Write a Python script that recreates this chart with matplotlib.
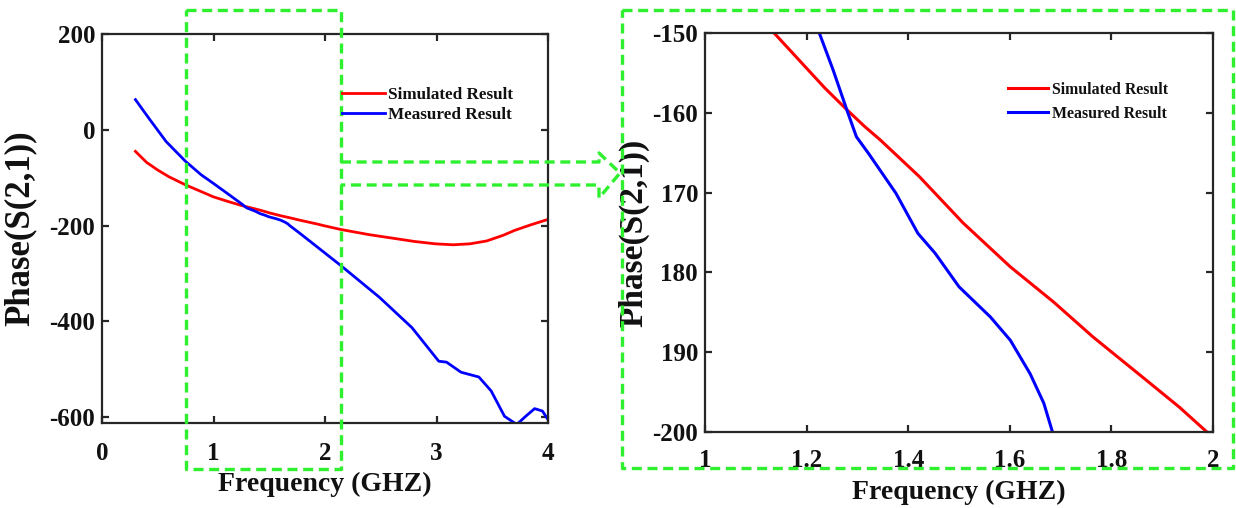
import matplotlib
matplotlib.use("Agg")
import matplotlib.pyplot as plt
from matplotlib.lines import Line2D

plt.rcParams['font.family'] = ['Liberation Serif', 'DejaVu Serif']
plt.rcParams['font.weight'] = 'bold'
plt.rcParams['axes.unicode_minus'] = False

# ---------------- data ----------------
sim_freq = [0.3, 0.4, 0.5, 0.6, 0.75, 0.9, 1.0, 1.136, 1.236, 1.279, 1.314, 1.345,
            1.422, 1.508, 1.601, 1.686, 1.764, 1.857, 1.934, 1.988, 2.14, 2.4,
            2.63, 2.8, 2.99, 3.15, 3.3, 3.45, 3.6, 3.7, 3.85, 4.0]
sim_phase = [-45, -68, -84, -98, -115, -130, -140, -150, -156.9, -159.6, -161.7, -163.4,
             -168.0, -173.8, -179.3, -183.7, -188.1, -192.9, -196.9, -200, -208, -219,
             -227, -233, -238, -240, -238, -232, -220, -210, -198, -187]

meas_freq = [0.3, 0.43, 0.575, 0.75, 0.89, 1.0, 1.125, 1.225, 1.252, 1.279, 1.298,
             1.322, 1.376, 1.419, 1.453, 1.5, 1.562, 1.601, 1.640, 1.667, 1.684, 1.78,
             2.14, 2.49, 2.78, 3.02, 3.09, 3.22, 3.38, 3.49, 3.61, 3.72, 3.80, 3.88,
             3.95, 4.0]
meas_phase = [63, 21, -24.5, -66, -94, -112, -133, -150, -154.6, -159.6, -163,
              -165.1, -170.1, -175.1, -177.6, -181.8, -185.6, -188.5, -192.7, -196.4, -200, -217,
              -283, -350, -413, -483, -485, -506, -516, -545, -598, -615, -598, -582,
              -587, -605]

left_xticks = [0, 1, 2, 3, 4]
left_yticks = [-600, -400, -200, 0, 200]
right_xticks = [1, 1.2, 1.4, 1.6, 1.8, 2]
right_xticklabels = ['1', '1.2', '1.4', '1.6', '1.8', '2']
right_yticks = [-150, -160, -170, -180, -190, -200]
right_yticklabels = ['-150', '-160', '170', '180', '190', '-200']

series_labels = ['Simulated Result', 'Measured Result']
xlabel = 'Frequency (GHZ)'
ylabel = 'Phase(S(2,1))'

# ---------------- figure ----------------
W, H = 1236, 508
fig = plt.figure(figsize=(W / 100, H / 100), dpi=100)


def fr(x0, y0, x1, y1):
    """pixel box (top-left origin) -> figure fraction rect"""
    return [x0 / W, 1 - y1 / H, (x1 - x0) / W, (y1 - y0) / H]


axL = fig.add_axes(fr(102, 34, 548, 423))
axR = fig.add_axes(fr(705, 33, 1213, 432))

spine_col = '#262626'
txt_col = '#111111'
for ax in (axL, axR):
    for s in ax.spines.values():
        s.set_linewidth(1.6)
        s.set_color(spine_col)
    ax.tick_params(direction='in', length=5, width=1.6, color=spine_col,
                   top=True, right=True, labelsize=18, labelcolor=txt_col)

# left panel
axL.plot(sim_freq, sim_phase, color='#ff0000', lw=2.0, label=series_labels[0])
axL.plot(meas_freq, meas_phase, color='#0000ff', lw=2.0, label=series_labels[1])
axL.set_xlim(0, 4)
axL.set_ylim(-612, 200)
axL.set_xticks(left_xticks)
axL.set_yticks(left_yticks)
axL.tick_params(axis='x', pad=14)
axL.tick_params(axis='y', pad=5)
axL.set_xlabel(xlabel, fontsize=20, fontweight='bold', color=txt_col)
axL.set_ylabel(ylabel, fontsize=25, fontweight='bold', color=txt_col)
axL.xaxis.set_label_coords(0.5, -0.125)
axL.yaxis.set_label_coords(-0.147, 0.5)
legL = fig.legend(handles=axL.get_lines(), labels=series_labels, loc='center left',
                  bbox_to_anchor=(342 / W, 1 - 105 / H), frameon=False,
                  fontsize=12.3, handlelength=2.5, handletextpad=0.2, labelspacing=0.25,
                  borderpad=0, borderaxespad=0)
for t in legL.get_texts():
    t.set_fontweight('bold')
    t.set_color(txt_col)

# right panel
axR.plot(sim_freq, sim_phase, color='#ff0000', lw=2.2, label=series_labels[0])
axR.plot(meas_freq, meas_phase, color='#0000ff', lw=2.2, label=series_labels[1])
axR.set_xlim(1, 2)
axR.set_ylim(-200, -150)
axR.set_xticks(right_xticks)
axR.set_xticklabels(right_xticklabels)
axR.set_yticks(right_yticks)
axR.set_yticklabels(right_yticklabels)
axR.tick_params(axis='x', pad=12)
axR.tick_params(axis='y', pad=5)
axR.set_xlabel(xlabel, fontsize=20, fontweight='bold', color=txt_col)
axR.set_ylabel(ylabel, fontsize=24, fontweight='bold', color=txt_col)
axR.xaxis.set_label_coords(0.5, -0.12)
axR.yaxis.set_label_coords(-0.11, 0.5)
legR = fig.legend(handles=axR.get_lines(), labels=series_labels, loc='center left',
                  bbox_to_anchor=(1008 / W, 1 - 102 / H), frameon=False,
                  fontsize=11.4, handlelength=2.5, handletextpad=0.25, labelspacing=0.5,
                  borderpad=0, borderaxespad=0)
for t in legR.get_texts():
    t.set_fontweight('bold')
    t.set_color(txt_col)

# ---------------- green dashed annotations ----------------
green = '#2ef02e'
dash = dict(color=green, lw=2.4, ls=(0, (3, 1.7)), transform=fig.transFigure,
            clip_on=False)


def poly(pts):
    xs = [p[0] / W for p in pts]
    ys = [1 - p[1] / H for p in pts]
    fig.add_artist(Line2D(xs, ys, **dash))


poly([(186, 10), (341, 10), (341, 469), (186, 469), (186, 10)])
poly([(622, 10), (1233, 10), (1233, 468), (622, 468), (622, 10)])
poly([(341, 162), (599, 162), (599, 153), (620, 173), (599, 198), (599, 185), (341, 185)])

fig.savefig('out.png', dpi=100)
